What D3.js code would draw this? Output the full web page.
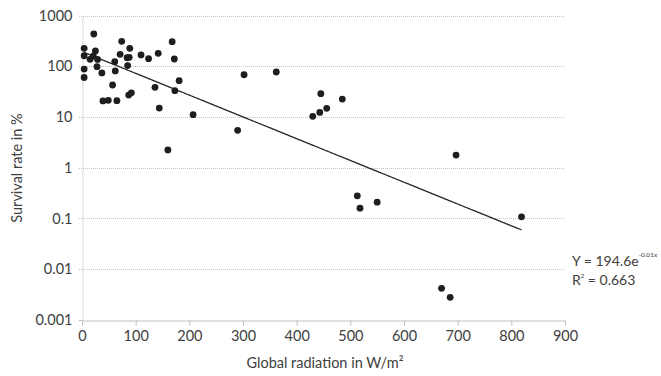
<!DOCTYPE html>
<html>
<head>
<meta charset="utf-8">
<script src="https://cdn.jsdelivr.net/npm/d3@7"></script>
<style>
  body { margin: 0; background: #fff; }
  text { font-family: Lato, "Open Sans", sans-serif; fill: #404040; }
</style>
</head>
<body>
<div id="chart"></div>
<script>
let width = 661;
let height = 376;
let margin = ({top: 15.5, right: 96, bottom: 56, left: 82});

// global radiation (W/m²) and survival rate (%)
let radiation = [4, 4, 4, 4, 22, 25, 15, 21, 29, 28, 37, 39, 49, 57, 61, 62, 65, 71, 74,
    84, 88, 85, 89, 87, 92, 110, 124, 142, 136, 144, 168, 172, 173, 181, 207, 160,
    290, 302, 362, 445, 485, 456, 443, 430, 513, 518, 550, 697, 670, 686, 819];
let survival = [226, 161, 88, 60, 432, 200, 137, 159, 136, 98, 74, 20.7, 21.3, 42.7, 123, 81, 21, 172, 310,
    147, 150, 103, 226, 27, 30, 167, 141, 180, 38.5, 15, 305, 139, 33, 52, 11.1, 2.24,
    5.47, 68, 77, 28.8, 22.6, 14.8, 12.3, 10.3, 0.28, 0.16, 0.21, 1.78, 0.0042, 0.0028, 0.108];

let xTicks = [0, 100, 200, 300, 400, 500, 600, 700, 800, 900];
let yTicks = [0.001, 0.01, 0.1, 1, 10, 100, 1000];

// exponential trend line  Y = a·e^(b·x)
let fitA = 194.6;
let fitB = -0.00988;

let data = radiation.map((d, i) => ({x: d, y: survival[i]}));

let svg = d3.select("#chart")
    .append("svg")
    .attr("width", width)
    .attr("height", height);

let xScale = d3.scaleLinear()
    .domain([0, 900])
    .range([margin.left, width - margin.right]);

let yScale = d3.scaleLog()
    .domain([0.001, 1000])
    .range([height - margin.bottom, margin.top]);

let yFormat = d => d >= 1 ? d3.format("d")(d) : String(d);

// dotted grid lines
svg.append("g")
    .selectAll("line")
    .data(yTicks.slice(1))
    .join("line")
    .attr("x1", margin.left - 3)
    .attr("x2", width - margin.right)
    .attr("y1", d => Math.round(yScale(d)) + 0.5)
    .attr("y2", d => Math.round(yScale(d)) + 0.5)
    .attr("stroke", "#c4c4c4")
    .attr("stroke-dasharray", "1,1");

// y axis
let yAxis = svg.append("g")
    .attr("transform", "translate(" + (margin.left + 0.5) + ",0)")
    .call(d3.axisLeft(yScale).tickValues(yTicks).tickFormat(yFormat).tickSize(0).tickPadding(10));
yAxis.select(".domain").attr("stroke", "#d9d9d9");
yAxis.selectAll("text").style("font-size", "14.5px").attr("fill", "#404040");

// x axis
let xAxis = svg.append("g")
    .attr("transform", "translate(0," + (Math.round(yScale(0.001)) + 0.5) + ")")
    .call(d3.axisBottom(xScale).tickValues(xTicks).tickSize(5).tickSizeOuter(0).tickPadding(5));
xAxis.select(".domain").attr("stroke", "#bfbfbf");
xAxis.selectAll(".tick line").attr("stroke", "#bfbfbf");
xAxis.selectAll("text").style("font-size", "14.5px").attr("fill", "#404040");

// left tick at 0.001
svg.append("line")
    .attr("x1", margin.left - 3).attr("x2", margin.left)
    .attr("y1", Math.round(yScale(0.001)) + 0.5).attr("y2", Math.round(yScale(0.001)) + 0.5)
    .attr("stroke", "#bfbfbf");

// trend line
let xMin = d3.min(radiation), xMax = d3.max(radiation);
let fitPts = d3.range(xMin, xMax + 1, 4).concat([xMax]).map(x => ({x: x, y: fitA * Math.exp(fitB * x)}));
svg.append("path")
    .datum(fitPts)
    .attr("fill", "none")
    .attr("stroke", "#262626")
    .attr("stroke-width", 1.3)
    .attr("d", d3.line().x(d => xScale(d.x)).y(d => yScale(d.y)));

// points
svg.append("g")
    .selectAll("circle")
    .data(data)
    .join("circle")
    .attr("cx", d => xScale(d.x))
    .attr("cy", d => yScale(d.y))
    .attr("r", 3.4)
    .attr("fill", "#1e1e1e");

// equation label
let eq = svg.append("text")
    .attr("x", 572)
    .attr("y", 266)
    .style("font-size", "14px");
eq.append("tspan").text("Y = 194.6e");
eq.append("tspan").attr("dy", -9).style("font-size", "6.5px").text("-0.01x");

let r2 = svg.append("text")
    .attr("x", 572)
    .attr("y", 285)
    .style("font-size", "14px");
r2.append("tspan").text("R");
r2.append("tspan").attr("dy", -7).style("font-size", "6px").text("2");
r2.append("tspan").attr("dy", 7).text(" = 0.663");

// axis titles
svg.append("text")
    .attr("x", 325)
    .attr("y", 368)
    .attr("text-anchor", "middle")
    .style("font-size", "14.5px")
    .text("Global radiation in W/m²");

svg.append("text")
    .attr("transform", "translate(22,168) rotate(-90)")
    .attr("text-anchor", "middle")
    .style("font-size", "14.5px")
    .text("Survival rate in %");
</script>
</body>
</html>
